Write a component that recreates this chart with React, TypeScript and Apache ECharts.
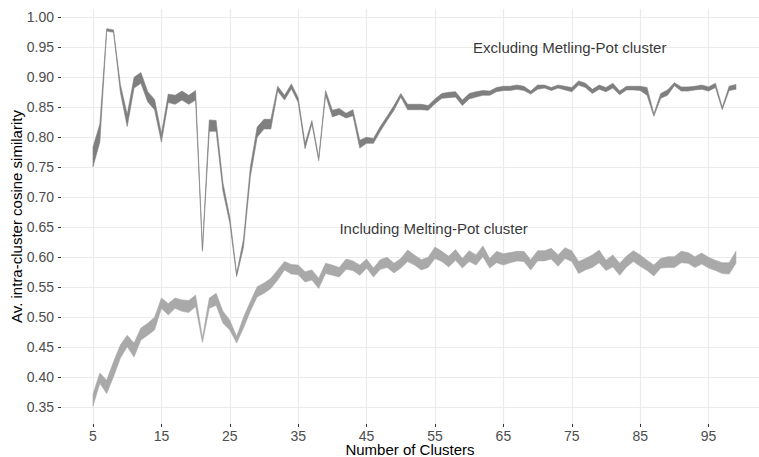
import React, { useEffect, useRef } from "react";
import * as echarts from "echarts";

const clusters = [5,6,7,8,9,10,11,12,13,14,15,16,17,18,19,20,21,22,23,24,25,26,27,28,29,30,31,32,33,34,35,36,37,38,39,40,41,42,43,44,45,46,47,48,49,50,51,52,53,54,55,56,57,58,59,60,61,62,63,64,65,66,67,68,69,70,71,72,73,74,75,76,77,78,79,80,81,82,83,84,85,86,87,88,89,90,91,92,93,94,95,96,97,98,99];

const exclLower = [0.751,0.792,0.977,0.975,0.875,0.818,0.882,0.89,0.859,0.846,0.792,0.858,0.855,0.862,0.855,0.862,0.61,0.81,0.81,0.71,0.657,0.568,0.617,0.734,0.8,0.814,0.814,0.877,0.862,0.881,0.858,0.781,0.822,0.761,0.87,0.834,0.838,0.832,0.836,0.782,0.79,0.79,0.81,0.828,0.845,0.867,0.846,0.846,0.846,0.845,0.856,0.865,0.866,0.867,0.853,0.864,0.867,0.87,0.87,0.876,0.878,0.878,0.88,0.878,0.872,0.88,0.882,0.878,0.882,0.879,0.876,0.887,0.883,0.873,0.88,0.876,0.882,0.871,0.879,0.879,0.878,0.87,0.835,0.865,0.87,0.886,0.877,0.877,0.879,0.88,0.877,0.883,0.846,0.878,0.88];
const exclUpper = [0.784,0.822,0.981,0.979,0.888,0.838,0.9,0.908,0.876,0.863,0.806,0.872,0.87,0.877,0.87,0.878,0.614,0.829,0.828,0.724,0.667,0.573,0.63,0.75,0.817,0.83,0.83,0.885,0.87,0.889,0.866,0.79,0.828,0.766,0.878,0.845,0.848,0.84,0.846,0.795,0.8,0.798,0.818,0.835,0.853,0.873,0.855,0.855,0.855,0.853,0.864,0.873,0.875,0.876,0.862,0.873,0.876,0.878,0.877,0.883,0.885,0.885,0.887,0.885,0.877,0.887,0.887,0.883,0.887,0.885,0.883,0.894,0.89,0.88,0.887,0.883,0.89,0.877,0.885,0.885,0.885,0.883,0.839,0.873,0.879,0.891,0.884,0.884,0.885,0.887,0.884,0.89,0.85,0.885,0.888];

const inclLower = [0.352,0.39,0.373,0.401,0.432,0.451,0.434,0.462,0.47,0.479,0.515,0.504,0.515,0.51,0.508,0.518,0.458,0.515,0.52,0.49,0.479,0.457,0.482,0.51,0.534,0.54,0.548,0.562,0.579,0.572,0.571,0.559,0.562,0.548,0.573,0.57,0.567,0.58,0.578,0.57,0.582,0.567,0.58,0.583,0.574,0.582,0.593,0.587,0.579,0.583,0.598,0.593,0.584,0.595,0.582,0.593,0.587,0.601,0.582,0.591,0.587,0.591,0.594,0.593,0.579,0.594,0.594,0.597,0.585,0.598,0.593,0.573,0.579,0.583,0.591,0.578,0.584,0.57,0.584,0.593,0.585,0.578,0.569,0.582,0.583,0.583,0.591,0.59,0.583,0.589,0.582,0.578,0.573,0.572,0.59];
const inclUpper = [0.372,0.407,0.395,0.426,0.454,0.47,0.457,0.482,0.49,0.5,0.532,0.523,0.532,0.529,0.528,0.537,0.466,0.532,0.54,0.51,0.495,0.468,0.5,0.526,0.551,0.557,0.565,0.579,0.593,0.588,0.587,0.576,0.579,0.565,0.59,0.587,0.583,0.597,0.594,0.587,0.597,0.582,0.596,0.6,0.59,0.598,0.612,0.604,0.596,0.6,0.617,0.61,0.602,0.613,0.598,0.611,0.604,0.619,0.598,0.61,0.606,0.608,0.61,0.61,0.596,0.611,0.611,0.615,0.604,0.616,0.611,0.593,0.598,0.604,0.612,0.595,0.604,0.59,0.602,0.611,0.604,0.595,0.587,0.598,0.601,0.601,0.61,0.608,0.601,0.607,0.6,0.595,0.591,0.591,0.61];

const xTicks = [5,15,25,35,45,55,65,75,85,95];
const yTicks = [0.35,0.4,0.45,0.5,0.55,0.6,0.65,0.7,0.75,0.8,0.85,0.9,0.95,1.0];

const annotations = [
  { name: "Excluding Metling-Pot cluster", x: 74.7, y: 0.949 },
  { name: "Including Melting-Pot cluster", x: 54.8, y: 0.648 },
];

const DARK = "#7f7f7f";
const LIGHT = "#a9a9a9";
const FONT = "'Liberation Sans', Arial, Helvetica, sans-serif";

function bandSeries(lower: number[], upper: number[], color: string) {
  const rows = clusters.map((k, i) => [k, lower[i], upper[i]]);
  return {
    type: "custom",
    coordinateSystem: "cartesian2d",
    data: rows,
    encode: { x: 0, y: [1, 2] },
    clip: true,
    z: 3,
    silent: true,
    renderItem: (params: any, api: any) => {
      if (params.dataIndex !== 0) return null;
      const top = rows.map((r) => api.coord([r[0], r[2]]));
      const bottom = rows.map((r) => api.coord([r[0], r[1]])).reverse();
      return {
        type: "polygon",
        shape: { points: top.concat(bottom) },
        style: { fill: color, stroke: color, lineWidth: 0.6, lineJoin: "round" },
      };
    },
  };
}

export default function App() {
  const ref = useRef<HTMLDivElement>(null);
  useEffect(() => {
    if (!ref.current) return;
    const chart = echarts.init(ref.current, null, { renderer: "svg" });
    chart.setOption({
      animation: false,
      backgroundColor: "#ffffff",
      grid: { left: 61, right: 0, top: 9, bottom: 33, containLabel: false, outerBoundsMode: "none" },
      xAxis: {
        type: "value",
        min: 0.32,
        max: 102.37,
        name: "Number of Clusters",
        nameLocation: "middle",
        nameGap: 18,
        nameMoveOverlap: false,
        nameTextStyle: { color: "#000", fontSize: 15, fontFamily: FONT },
        axisLine: { show: false },
        axisTick: { show: true, length: 3, customValues: xTicks, lineStyle: { color: "#333", width: 1 } },
        axisLabel: { customValues: xTicks, margin: 5, color: "#4d4d4d", fontSize: 14, fontFamily: FONT },
        splitLine: { show: true, lineStyle: { color: "#ebebeb", width: 1.2 } },
      },
      yAxis: {
        type: "value",
        min: 0.3222,
        max: 1.0138,
        name: "Av. intra-cluster cosine similarity",
        nameLocation: "middle",
        nameGap: 37,
        nameMoveOverlap: false,
        nameTextStyle: { color: "#000", fontSize: 15, fontFamily: FONT },
        axisLine: { show: false },
        axisTick: { show: true, length: 3, customValues: yTicks, lineStyle: { color: "#333", width: 1 } },
        axisLabel: {
          customValues: yTicks,
          margin: 7,
          color: "#4d4d4d",
          fontSize: 14,
          fontFamily: FONT,
          formatter: (v: number) => v.toFixed(2),
        },
        splitLine: { show: true, lineStyle: { color: "#ebebeb", width: 1.2 } },
      },
      series: [
        bandSeries(exclLower, exclUpper, DARK),
        bandSeries(inclLower, inclUpper, LIGHT),
        {
          type: "scatter",
          data: annotations.map((a) => ({ name: a.name, value: [a.x, a.y] })),
          symbolSize: 0,
          z: 5,
          silent: true,
          label: {
            show: true,
            position: "inside",
            formatter: (p: any) => p.name,
            color: "#000",
            fontSize: 15,
            fontFamily: FONT,
          },
        },
      ],
    });
    return () => chart.dispose();
  }, []);
  return (
    <div
      ref={ref}
      style={{ position: "fixed", left: 0, top: 0, width: 759, height: 457 }}
    />
  );
}
